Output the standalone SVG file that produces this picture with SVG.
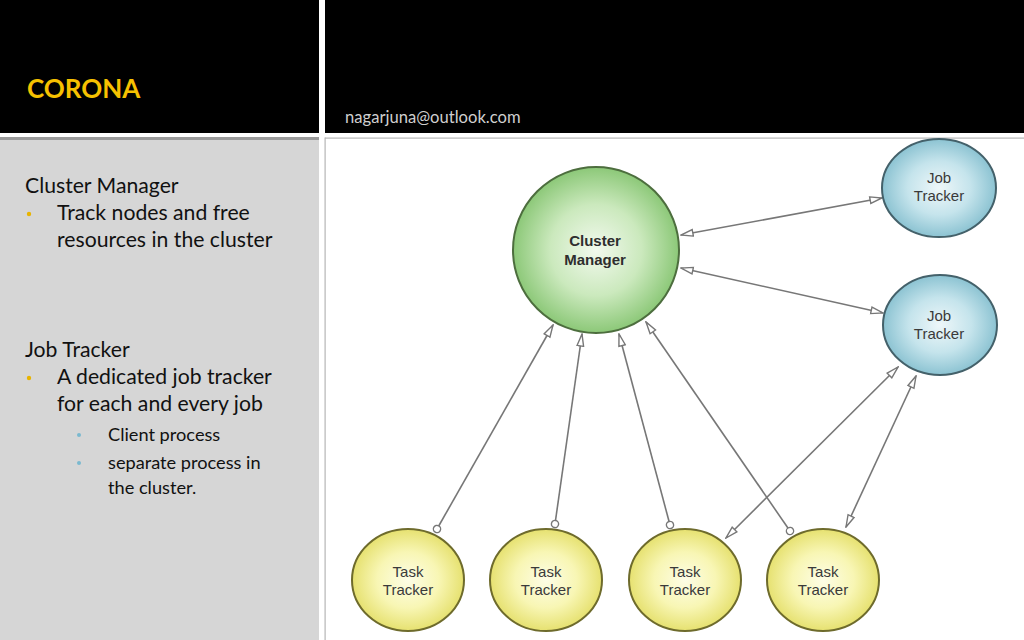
<svg xmlns="http://www.w3.org/2000/svg" width="1024" height="640" viewBox="0 0 1024 640">
<style>
.hdr{fill:#000}
.side{font-family:Lato,"Open Sans",sans-serif;fill:#111}
.l1{font-size:21.2px}
.l2{font-size:18.2px}
.node text{font-family:"Liberation Sans",Arial,sans-serif;font-size:15px;fill:#3a3a3a;text-anchor:middle}
.conn line{stroke:#777;stroke-width:1.6;fill:none}
</style>
<defs>
<radialGradient id="gG" cx="50%" cy="50%" r="50%">
<stop offset="0" stop-color="#f2f9ee"/>
<stop offset="0.55" stop-color="#cbe9bd"/>
<stop offset="1" stop-color="#8cc878"/>
</radialGradient>
<radialGradient id="gB" cx="50%" cy="50%" r="50%">
<stop offset="0" stop-color="#eef7f9"/>
<stop offset="0.55" stop-color="#c5e4ec"/>
<stop offset="1" stop-color="#8cc3d2"/>
</radialGradient>
<radialGradient id="gY" cx="50%" cy="50%" r="50%">
<stop offset="0" stop-color="#fdfde6"/>
<stop offset="0.55" stop-color="#f8f6b4"/>
<stop offset="1" stop-color="#e6e170"/>
</radialGradient>
<marker id="arr" markerUnits="userSpaceOnUse" markerWidth="14" markerHeight="10" viewBox="0 0 14 10" refX="13" refY="5" orient="auto-start-reverse">
<path d="M1,1.7 L13,5 L1,8.3 Z" fill="#fff" stroke="#777" stroke-width="1.4"/>
</marker>
<marker id="dot" markerUnits="userSpaceOnUse" markerWidth="10" markerHeight="10" viewBox="0 0 10 10" refX="5" refY="5" orient="auto">
<circle cx="5" cy="5" r="3.6" fill="#fff" stroke="#777" stroke-width="1.4"/>
</marker>
</defs>
<rect width="1024" height="640" fill="#fff"/>
<rect class="hdr" x="0" y="0" width="319" height="133"/>
<rect class="hdr" x="325" y="0" width="699" height="133"/>
<rect x="0" y="138" width="319" height="502" fill="#d6d6d6"/>
<rect x="0" y="137" width="319" height="3" fill="#9a9a9a"/>
<rect x="325" y="137.5" width="699" height="1.2" fill="#b5b5b5"/>
<rect x="324.5" y="137.5" width="1.2" height="503" fill="#b5b5b5"/>
<text x="27" y="98" font-family="Lato,'Open Sans',sans-serif" font-size="26" font-weight="bold" fill="#f6c100">CORONA</text>
<text x="345" y="123" font-family="Lato,'Open Sans',sans-serif" font-size="16.6" fill="#cfcfcf">nagarjuna@outlook.com</text>
<g id="side-text" class="side">
<text class="l1" x="25" y="193">Cluster Manager</text>
<circle cx="29" cy="214" r="2.2" fill="#e8b400"/>
<text class="l1" x="57" y="220">Track nodes and free</text>
<text class="l1" x="57" y="247">resources in the cluster</text>
<text class="l1" x="25" y="357">Job Tracker</text>
<circle cx="29" cy="378" r="2.2" fill="#e8b400"/>
<text class="l1" x="57" y="384">A dedicated job tracker</text>
<text class="l1" x="57" y="411">for each and every job</text>
<circle cx="79" cy="435" r="2" fill="#7ab9cf"/>
<text class="l2" x="108" y="441">Client process</text>
<circle cx="79" cy="463" r="2" fill="#7ab9cf"/>
<text class="l2" x="108" y="469">separate process in</text>
<text class="l2" x="108" y="494">the cluster.</text>
</g>
<g id="connectors" class="conn">
<line x1="681" y1="235" x2="882" y2="198" marker-start="url(#arr)" marker-end="url(#arr)"/>
<line x1="681" y1="268" x2="883" y2="313" marker-start="url(#arr)" marker-end="url(#arr)"/>
<line x1="437" y1="529" x2="553" y2="325" marker-start="url(#dot)" marker-end="url(#arr)"/>
<line x1="555" y1="524" x2="582" y2="334" marker-start="url(#dot)" marker-end="url(#arr)"/>
<line x1="670" y1="525" x2="619" y2="334" marker-start="url(#dot)" marker-end="url(#arr)"/>
<line x1="790" y1="531" x2="646" y2="322" marker-start="url(#dot)" marker-end="url(#arr)"/>
<line x1="726" y1="538" x2="898" y2="367" marker-start="url(#arr)" marker-end="url(#arr)"/>
<line x1="846" y1="527" x2="916" y2="376" marker-start="url(#arr)" marker-end="url(#arr)"/>
</g>
<g id="cluster-manager" class="node">
<circle cx="596" cy="250" r="83" fill="url(#gG)" stroke="#4d6e3e" stroke-width="2"/>
<text x="595" y="246" font-weight="bold" style="fill:#2e2e2e">Cluster</text>
<text x="595" y="265" font-weight="bold" style="fill:#2e2e2e">Manager</text>
</g>
<g id="job-tracker-1" class="node">
<ellipse cx="939" cy="188" rx="57" ry="49" fill="url(#gB)" stroke="#44616a" stroke-width="2"/>
<text x="939" y="183">Job</text>
<text x="939" y="201">Tracker</text>
</g>
<g id="job-tracker-2" class="node">
<ellipse cx="940" cy="325" rx="57" ry="50" fill="url(#gB)" stroke="#44616a" stroke-width="2"/>
<text x="939" y="321">Job</text>
<text x="939" y="339">Tracker</text>
</g>
<g id="task-tracker-1" class="node">
<ellipse cx="408" cy="580" rx="56" ry="51" fill="url(#gY)" stroke="#6e6b2c" stroke-width="2"/>
<text x="408" y="577">Task</text>
<text x="408" y="595">Tracker</text>
</g>
<g id="task-tracker-2" class="node">
<ellipse cx="546" cy="580" rx="56" ry="51" fill="url(#gY)" stroke="#6e6b2c" stroke-width="2"/>
<text x="546" y="577">Task</text>
<text x="546" y="595">Tracker</text>
</g>
<g id="task-tracker-3" class="node">
<ellipse cx="685" cy="580" rx="56" ry="51" fill="url(#gY)" stroke="#6e6b2c" stroke-width="2"/>
<text x="685" y="577">Task</text>
<text x="685" y="595">Tracker</text>
</g>
<g id="task-tracker-4" class="node">
<ellipse cx="823" cy="580" rx="56" ry="51" fill="url(#gY)" stroke="#6e6b2c" stroke-width="2"/>
<text x="823" y="577">Task</text>
<text x="823" y="595">Tracker</text>
</g>
</svg>
